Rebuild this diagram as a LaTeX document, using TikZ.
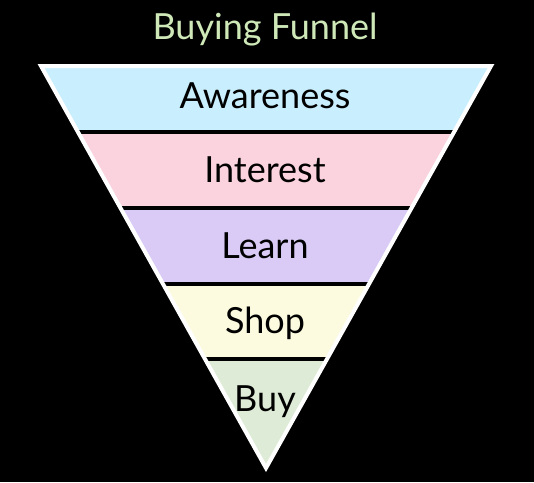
\documentclass[tikz,border=0pt]{standalone}
\usepackage{fontspec}
\setmainfont{Lato}
\usepackage{xcolor}
\definecolor{awarefill}{HTML}{C9EEFD}
\definecolor{interestfill}{HTML}{FAD3DE}
\definecolor{learnfill}{HTML}{D9CBF6}
\definecolor{shopfill}{HTML}{FCFADF}
\definecolor{buyfill}{HTML}{DEEBD6}
\definecolor{titlegreen}{HTML}{CFE8B8}

\begin{document}
\begin{tikzpicture}[
  x=1pt, y=-1pt,
  stage/.style={anchor=base, font=\fontsize{36}{40}\selectfont, text=black, inner sep=0pt},
  heading/.style={anchor=base, font=\fontsize{36}{40}\selectfont, text=titlegreen, inner sep=0pt},
  divider/.style={draw=black, line width=4pt},
  rim/.style={draw=white, line width=4pt, line join=miter}
]
\useasboundingbox[fill=black] (0,0) rectangle (534,482);

\coordinate (tl) at (41,66);
\coordinate (tr) at (491,66);
\coordinate (apex) at (266,468);

% bands
\begin{scope}
  \clip (tl) -- (tr) -- (apex) -- cycle;
  \fill[awarefill] (0,60) rectangle (534,132);
  \fill[interestfill] (0,132) rectangle (534,208);
  \fill[learnfill] (0,208) rectangle (534,284);
  \fill[shopfill] (0,284) rectangle (534,359);
  \fill[buyfill] (0,359) rectangle (534,480);
  \draw[divider] (0,132) -- (534,132);
  \draw[divider] (0,208) -- (534,208);
  \draw[divider] (0,284) -- (534,284);
  \draw[divider] (0,359) -- (534,359);
\end{scope}
\draw[rim] (tl) -- (tr) -- (apex) -- cycle;

\node[heading] (title) at (265,39) {Buying Funnel};
\node[stage] (aware) at (265,108) {Awareness};
\node[stage] (interest) at (265,182) {Interest};
\node[stage] (learn) at (265,258) {Learn};
\node[stage] (shop) at (265,333) {Shop};
\node[stage] (buy) at (265,411) {Buy};
\end{tikzpicture}
\end{document}
